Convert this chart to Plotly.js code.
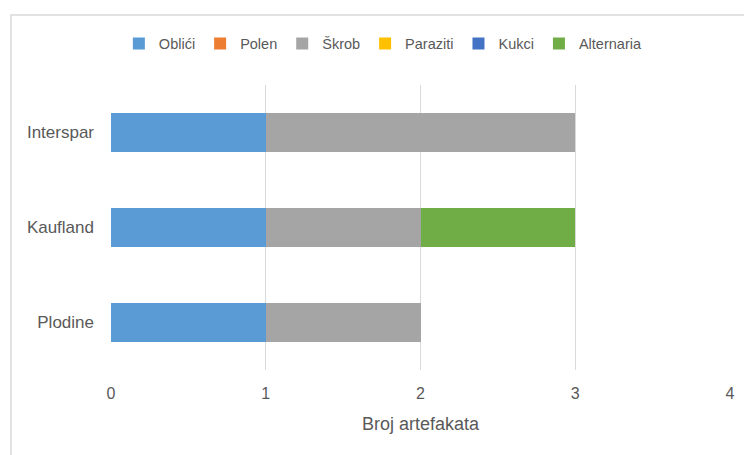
<!DOCTYPE html>
<html>
<head>
<meta charset="utf-8">
<script src="https://cdn.plot.ly/plotly-3.0.1.min.js"></script>
<style>html,body{margin:0;padding:0;background:#fff;}#chart{width:744px;height:455px;}</style>
</head>
<body>
<div id="chart"></div>
<script>
const categories = ['Plodine', 'Kaufland', 'Interspar'];
const seriesNames = ['Oblići', 'Polen', 'Škrob', 'Paraziti', 'Kukci', 'Alternaria'];
const oblici = [1, 1, 1];
const polen = [0, 0, 0];
const skrob = [1, 1, 2];
const paraziti = [0, 0, 0];
const kukci = [0, 0, 0];
const alternaria = [0, 1, 0];
const xTicks = [0, 1, 2, 3, 4];
const colors = ['#5B9BD5', '#ED7D31', '#A5A5A5', '#FFC000', '#4472C4', '#70AD47'];
const values = [oblici, polen, skrob, paraziti, kukci, alternaria];

const font = 'Liberation Sans, Arial, sans-serif';
const traces = seriesNames.map((n, i) => ({
  type: 'bar', orientation: 'h', name: n,
  x: values[i], y: categories,
  marker: {color: colors[i], line: {width: 0}},
  hoverinfo: 'x+name'
}));

const layout = {
  width: 744, height: 455,
  margin: {l: 111, r: 14, t: 85, b: 85},
  barmode: 'stack', bargap: 0.59,
  paper_bgcolor: '#fff', plot_bgcolor: '#fff',
  font: {family: font, size: 14, color: '#595959'},
  showlegend: true,
  legend: {orientation: 'h', x: 0.44, xanchor: 'center', y: 1.145, yanchor: 'middle',
    font: {family: font, size: 14.5, color: '#595959'}, itemwidth: 30, tracegroupgap: 0, traceorder: 'normal'},
  xaxis: {range: [0, 4], tickvals: xTicks, ticktext: xTicks.map(String),
    showgrid: true, gridcolor: '#D9D9D9', gridwidth: 1, zeroline: false,
    showline: false, ticks: '', ticklabelstandoff: 12,
    tickfont: {family: font, size: 16, color: '#595959'},
    title: {text: 'Broj artefakata', font: {family: font, size: 18, color: '#595959'}, standoff: 16}},
  yaxis: {categoryorder: 'array', categoryarray: categories,
    showgrid: false, zeroline: false, showline: false, ticks: '', ticklabelstandoff: 16,
    tickfont: {family: font, size: 17, color: '#595959'}},
  shapes: [{type: 'rect', xref: 'paper', yref: 'paper',
    x0: -0.1616, x1: 1.05, y0: -0.35, y1: 1.2456,
    line: {color: '#D9D9D9', width: 1.5}, fillcolor: 'rgba(0,0,0,0)', layer: 'below'}]
};

Plotly.newPlot('chart', traces, layout, {displayModeBar: false, staticPlot: true});
</script>
</body>
</html>
